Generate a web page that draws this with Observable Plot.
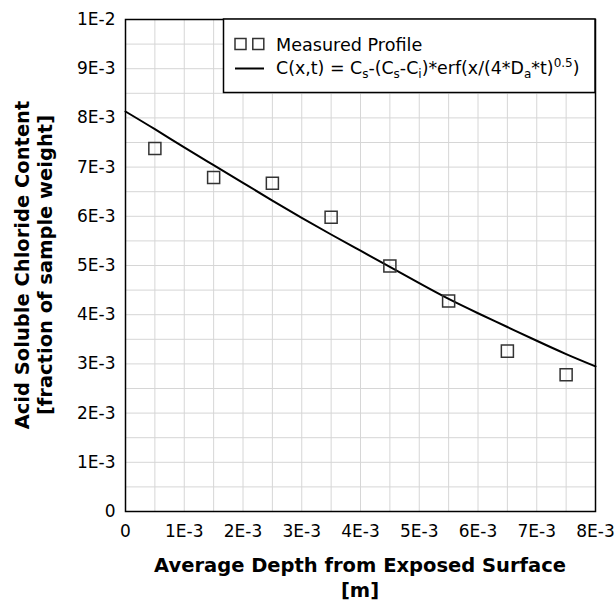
<!DOCTYPE html>
<html><head><meta charset="utf-8">
<script src="https://cdn.jsdelivr.net/npm/d3@7"></script>
<script src="https://cdn.jsdelivr.net/npm/@observablehq/plot@0.6"></script>
<style>body{margin:0;background:#fff}</style>
</head><body><div id="chart"></div>
<script>
// Measured profile
const depth = [0.0005, 0.0015, 0.0025, 0.0035, 0.0045, 0.0055, 0.0065, 0.0075];
const measured = [0.00738, 0.00679, 0.00667, 0.00598, 0.00499, 0.00428, 0.00326, 0.00278];
// Fitted erf curve
const fitDepth = [0, 0.0005, 0.001, 0.0015, 0.002, 0.0025, 0.003, 0.0035, 0.004, 0.0045, 0.005, 0.0055, 0.006, 0.0065, 0.007, 0.0075, 0.008];
const fitValue = [0.00813, 0.00777, 0.00740, 0.00704, 0.00668, 0.00632, 0.00597, 0.00563, 0.00530, 0.00497, 0.00464, 0.00432, 0.00403, 0.00375, 0.00347, 0.00320, 0.00295];
// Ticks
const xTicks = [0, 0.001, 0.002, 0.003, 0.004, 0.005, 0.006, 0.007, 0.008];
const xTickLabels = ["0", "1E-3", "2E-3", "3E-3", "4E-3", "5E-3", "6E-3", "7E-3", "8E-3"];
const yTicks = [0, 0.001, 0.002, 0.003, 0.004, 0.005, 0.006, 0.007, 0.008, 0.009, 0.01];
const yTickLabels = ["0", "1E-3", "2E-3", "3E-3", "4E-3", "5E-3", "6E-3", "7E-3", "8E-3", "9E-3", "1E-2"];
const xGrid = [0.0005, 0.001, 0.0015, 0.002, 0.0025, 0.003, 0.0035, 0.004, 0.0045, 0.005, 0.0055, 0.006, 0.0065, 0.007, 0.0075];
const yGrid = [0.0005, 0.001, 0.0015, 0.002, 0.0025, 0.003, 0.0035, 0.004, 0.0045, 0.005, 0.0055, 0.006, 0.0065, 0.007, 0.0075, 0.008, 0.0085, 0.009, 0.0095];

const measuredData = depth.map((d, i) => ({x: d, y: measured[i]}));
const fitData = fitDepth.map((d, i) => ({x: d, y: fitValue[i]}));

const plot = Plot.plot({
  width: 615, height: 605,
  marginLeft: 125, marginRight: 20, marginTop: 19, marginBottom: 94,
  x: {domain: [0, 0.008]},
  y: {domain: [0, 0.01]},
  style: {fontFamily: "DejaVu Sans", fontSize: "17px", color: "#000", background: "#fff"},
  marks: [
    Plot.ruleX(xGrid, {stroke: "#d6d6d6", strokeWidth: 1, strokeOpacity: 1}),
    Plot.ruleY(yGrid, {stroke: "#d6d6d6", strokeWidth: 1, strokeOpacity: 1}),
    Plot.axisX(xTicks, {tickSize: 0, tickPadding: 13, tickFormat: d => xTickLabels[xTicks.indexOf(d)], label: null, fontSize: 17, fill: "#000"}),
    Plot.axisY(yTicks, {tickSize: 0, tickPadding: 10, tickFormat: d => yTickLabels[yTicks.indexOf(d)], label: null, fontSize: 17, fill: "#000"}),
    Plot.line(fitData, {x: "x", y: "y", curve: "natural", stroke: "#000", strokeWidth: 2}),
    Plot.dot(measuredData, {x: "x", y: "y", symbol: "square", r: 6.8, stroke: "#333", strokeWidth: 1.5, fill: "none"}),
    Plot.frame({stroke: "#000", strokeWidth: 1.5})
  ]
});
document.getElementById("chart").appendChild(plot);

const svg = d3.select(plot);
function title(x, y, txt, rot) {
  svg.append("text").attr("x", 0).attr("y", 0)
    .attr("transform", `translate(${x},${y})` + (rot ? " rotate(-90)" : ""))
    .attr("text-anchor", "middle").attr("font-family", "DejaVu Sans")
    .attr("font-weight", "bold").attr("font-size", 19.5).attr("fill", "#000").text(txt);
}
title(360, 572, "Average Depth from Exposed Surface", false);
title(360, 597, "[m]", false);
title(29, 265, "Acid Soluble Chloride Content", true);
title(52, 265, "[fraction of sample weight]", true);

// Legend
const lg = svg.append("g").attr("text-anchor", "start");
lg.append("rect").attr("x", 223.5).attr("y", 19).attr("width", 371.5).attr("height", 73.5)
  .attr("fill", "#fff").attr("stroke", "#000").attr("stroke-width", 1.5);
[240.5, 258.3].forEach(cx => lg.append("rect").attr("x", cx - 5.5).attr("y", 38.5).attr("width", 11).attr("height", 11)
  .attr("fill", "none").attr("stroke", "#333").attr("stroke-width", 1.5));
lg.append("line").attr("x1", 235).attr("x2", 264).attr("y1", 68.5).attr("y2", 68.5).attr("stroke", "#000").attr("stroke-width", 2);
lg.append("text").attr("x", 276).attr("y", 51).attr("text-anchor", "start").attr("font-family", "DejaVu Sans").attr("font-size", 17.6).attr("fill", "#000").text("Measured Profile");
const t2 = lg.append("text").attr("x", 276).attr("y", 74).attr("text-anchor", "start").attr("font-family", "DejaVu Sans").attr("font-size", 17.4).attr("fill", "#000");
const parts = [["C(x,t) = C", 0], ["s", 1], ["-(C", 0], ["s", 1], ["-C", 0], ["i", 1], [")*erf(x/(4*D", 0], ["a", 1], ["*t)", 0], ["0.5", -1], [")", 0]];
let cur = 0;
parts.forEach(([s, k]) => {
  const target = k === 1 ? 4 : k === -1 ? -7 : 0;
  t2.append("tspan").attr("dy", target - cur).attr("font-size", k === 0 ? 17.4 : 12).text(s);
  cur = target;
});
</script>
</body></html>
